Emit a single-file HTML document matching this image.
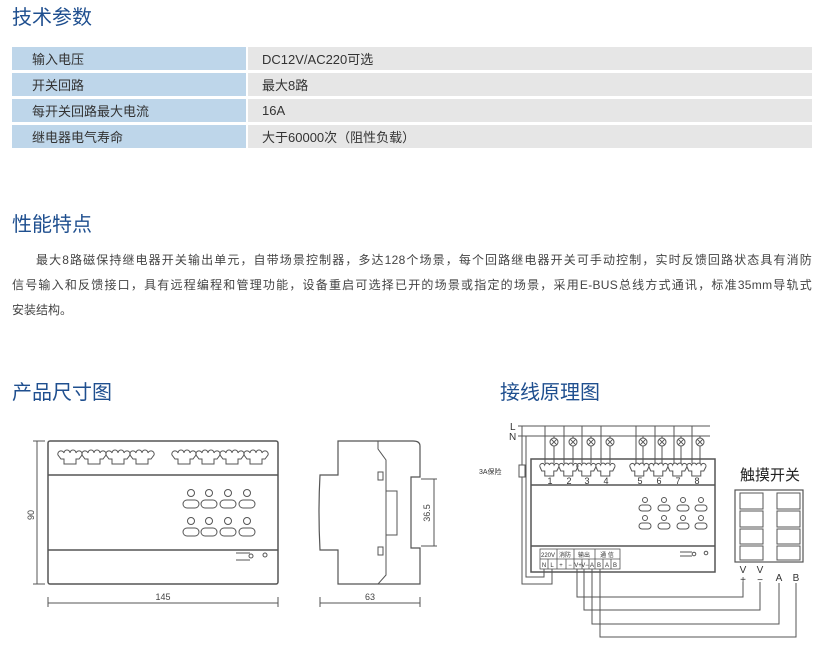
<!DOCTYPE html>
<html><head><meta charset="utf-8"><style>
body{margin:0;width:832px;height:663px;background:#fff;position:relative;overflow:hidden;font-family:"Liberation Sans","Noto Sans CJK SC",sans-serif;}
.h{position:absolute;color:#1f4f8f;font-size:20px;line-height:24px;}
table{position:absolute;left:12px;top:44px;border-collapse:separate;border-spacing:0 3px;}
td{height:23px;font-size:13px;color:#333;padding:0;}
td.a{background:#bed6ea;width:214px;padding-left:20px;border-right:2px solid #fff;}
td.b{background:#e6e6e6;width:550px;padding-left:14px;}
.p{position:absolute;left:12px;width:800px;margin:0;font-size:12px;line-height:25px;color:#444;text-align:justify;text-align-last:justify;white-space:nowrap;}
svg{position:absolute;left:0;top:0;}
</style></head><body>
<div class="h" style="left:12px;top:6px">技术参数</div>
<table>
<tr><td class="a">输入电压</td><td class="b">DC12V/AC220可选</td></tr>
<tr><td class="a">开关回路</td><td class="b">最大8路</td></tr>
<tr><td class="a">每开关回路最大电流</td><td class="b">16A</td></tr>
<tr><td class="a">继电器电气寿命</td><td class="b">大于60000次（阻性负载）</td></tr>
</table>
<div class="h" style="left:12px;top:213px">性能特点</div>
<div class="p" style="top:248px;left:36px;width:776px;letter-spacing:0.3px">最大8路磁保持继电器开关输出单元，自带场景控制器，多达128个场景，每个回路继电器开关可手动控制，实时反馈回路状态具有消防</div>
<div class="p" style="top:273px;letter-spacing:0.3px">信号输入和反馈接口，具有远程编程和管理功能，设备重启可选择已开的场景或指定的场景，采用E-BUS总线方式通讯，标准35mm导轨式</div>
<div class="p" style="top:298px;text-align-last:left;">安装结构。</div>
<div class="h" style="left:12px;top:381px">产品尺寸图</div>
<div class="h" style="left:500px;top:381px">接线原理图</div>
<svg width="832" height="663" fill="none" stroke="#555" stroke-width="1" font-family="Liberation Sans, Noto Sans CJK SC, sans-serif">
<defs>
<g id="tg"><path d="M0,4 a3,3 0 0 1 6,-2 a3,3 0 0 1 6,0 a3,3 0 0 1 6,0 a3,3 0 0 1 6,2 l-3,4 h-3 v5 h-12 v-5 h-3 z"/></g>
<g id="tw"><path d="M0,4 a2.4,2.4 0 0 1 4.7,-2 a2.4,2.4 0 0 1 4.7,0 a2.4,2.4 0 0 1 4.7,0 a2.4,2.4 0 0 1 4.7,2 l-2,4 h-3 v5 h-9 v-5 h-3 z"/></g>
<g id="bt"><circle cx="0" cy="0" r="3.5"/><rect x="-8" y="7" width="16" height="8" rx="4"/></g>
<g id="bs"><circle cx="0" cy="0" r="2.5"/><rect x="-6" y="5" width="12" height="6" rx="3"/></g>
<g id="lamp"><circle r="4"/><path d="M-2.8,-2.8 L2.8,2.8 M-2.8,2.8 L2.8,-2.8"/></g>
</defs>
<rect x="48" y="441" width="230" height="143" rx="2" stroke-width="1.5"/>
<line x1="48" y1="475" x2="278" y2="475" stroke-width="1.5"/>
<line x1="48" y1="550" x2="278" y2="550" stroke-width="1.5"/>
<use href="#tg" x="58" y="451"/><use href="#tg" x="82" y="451"/><use href="#tg" x="106" y="451"/><use href="#tg" x="130" y="451"/>
<use href="#tg" x="172" y="451"/><use href="#tg" x="196" y="451"/><use href="#tg" x="220" y="451"/><use href="#tg" x="244" y="451"/>
<use href="#bt" x="191" y="493"/><use href="#bt" x="209" y="493"/><use href="#bt" x="228" y="493"/><use href="#bt" x="247" y="493"/>
<use href="#bt" x="191" y="521"/><use href="#bt" x="209" y="521"/><use href="#bt" x="228" y="521"/><use href="#bt" x="247" y="521"/>
<path d="M236,553 h14 M236,560 h14"/><circle cx="251" cy="556" r="2"/><circle cx="265" cy="555" r="2"/>
<path d="M37,441 v143 M33,441 h12 M33,584 h12"/>
<text x="34" y="515" transform="rotate(-90 34 515)" fill="#444" stroke="none" font-size="9" text-anchor="middle">90</text>
<path d="M48,603 h230 M48,597 v10 M278,597 v10"/>
<text x="163" y="600" fill="#444" stroke="none" font-size="9" text-anchor="middle">145</text>
<path d="M338,441 H413 Q420,441 420,446 V477 H411 V548 H420 V584 H338 V550 H320 Q318,512 320,475 H338 Z" stroke-width="1.2"/>
<path d="M378,441 V449 L386,460 V575 L378,584"/>
<rect x="378" y="472" width="5" height="8"/><rect x="378" y="547" width="5" height="8"/>
<rect x="386" y="491" width="11" height="44"/>
<path d="M434,479 v67 M421,479 h16 M421,546 h16"/>
<text x="430" y="513" transform="rotate(-90 430 513)" fill="#444" stroke="none" font-size="9" text-anchor="middle">36.5</text>
<path d="M320,603 h100 M320,597 v10 M420,597 v10"/>
<text x="370" y="600" fill="#444" stroke="none" font-size="9" text-anchor="middle">63</text>
<text x="510" y="430" fill="#333" stroke="none" font-size="10">L</text>
<text x="509" y="440" fill="#333" stroke="none" font-size="10">N</text>
<path d="M518,426 H710 M518,436 H710"/>
<path d="M545,426 V463 M564,426 V463 M582,426 V463 M601,426 V463 M636,426 V463 M655,426 V463 M674,426 V463 M692,426 V463"/>
<path d="M554,436 V463 M573,436 V463 M591,436 V463 M610,436 V463 M643,436 V463 M662,436 V463 M681,436 V463 M700,436 V463"/>
<g stroke="#555" fill="#fff">
<use href="#lamp" x="554" y="442"/><use href="#lamp" x="573" y="442"/><use href="#lamp" x="591" y="442"/><use href="#lamp" x="610" y="442"/>
<use href="#lamp" x="643" y="442"/><use href="#lamp" x="662" y="442"/><use href="#lamp" x="681" y="442"/><use href="#lamp" x="700" y="442"/>
</g>
<rect x="531" y="459" width="184" height="113" stroke-width="1.5"/>
<line x1="531" y1="485" x2="715" y2="485" stroke-width="1.5"/>
<line x1="531" y1="546" x2="715" y2="546" stroke-width="1.5"/>
<use href="#tw" x="540" y="463"/><use href="#tw" x="559" y="463"/><use href="#tw" x="577" y="463"/><use href="#tw" x="596" y="463"/>
<use href="#tw" x="630" y="463"/><use href="#tw" x="649" y="463"/><use href="#tw" x="668" y="463"/><use href="#tw" x="687" y="463"/>
<g fill="#333" stroke="none" font-size="9" text-anchor="middle">
<text x="550" y="484">1</text><text x="569" y="484">2</text><text x="587" y="484">3</text><text x="606" y="484">4</text>
<text x="640" y="484">5</text><text x="659" y="484">6</text><text x="678" y="484">7</text><text x="697" y="484">8</text>
</g>
<use href="#bs" x="645" y="500"/><use href="#bs" x="664" y="500"/><use href="#bs" x="683" y="500"/><use href="#bs" x="701" y="500"/>
<use href="#bs" x="645" y="518"/><use href="#bs" x="664" y="518"/><use href="#bs" x="683" y="518"/><use href="#bs" x="701" y="518"/>
<path d="M680,552 h12 M680,556 h12"/><circle cx="694" cy="554" r="1.8"/><circle cx="706" cy="553" r="1.8"/>
<rect x="540" y="549" width="80" height="20" stroke-width="0.8"/>
<path d="M540,559 H620 M557,549 V569 M574,549 V569 M595,549 V569 M548,559 V569 M566,559 V569 M582,559 V569 M589,559 V569 M603,559 V569 M611,559 V569" stroke-width="0.8"/>
<g fill="#333" stroke="none" font-size="6" text-anchor="middle">
<text x="548" y="557">220V</text><text x="565" y="557">消防</text><text x="584" y="557">输出</text><text x="607" y="557">通 信</text>
<text x="544" y="567">N</text><text x="552" y="567">L</text><text x="561" y="567">+</text><text x="570" y="567">−</text><text x="578" y="567">V+</text><text x="585" y="567">V−</text><text x="592" y="567">A</text><text x="599" y="567">B</text><text x="607" y="567">A</text><text x="615" y="567">B</text>
</g>
<path d="M522,426 V465 M522,477 V584 H552 V569 M526,436 V577 H544 V569"/>
<rect x="519" y="465" width="6" height="12" fill="#fff"/>
<text x="479" y="474" fill="#333" stroke="none" font-size="7">3A保险</text>
<path d="M577,569 V597 H743 V582 M584,569 V610 H760 V582 M592,569 V624 H779 V583 M600,569 V637 H796 V583"/>
<text x="770" y="480" fill="#222" stroke="none" font-size="15" text-anchor="middle">触摸开关</text>
<rect x="735" y="490" width="68" height="72" stroke-width="1.2"/>
<g stroke-width="1">
<rect x="740" y="493" width="23" height="16"/><rect x="740" y="511" width="23" height="16"/><rect x="740" y="529" width="23" height="15"/><rect x="740" y="546" width="23" height="14"/>
<rect x="777" y="493" width="23" height="16"/><rect x="777" y="511" width="23" height="16"/><rect x="777" y="529" width="23" height="15"/><rect x="777" y="546" width="23" height="14"/>
</g>
<g fill="#333" stroke="none" font-size="10" text-anchor="middle">
<text x="743" y="573">V</text><text x="743" y="583">+</text><text x="760" y="573">V</text><text x="760" y="583">−</text>
<text x="779" y="581">A</text><text x="796" y="581">B</text>
</g>
</svg>
</body></html>
